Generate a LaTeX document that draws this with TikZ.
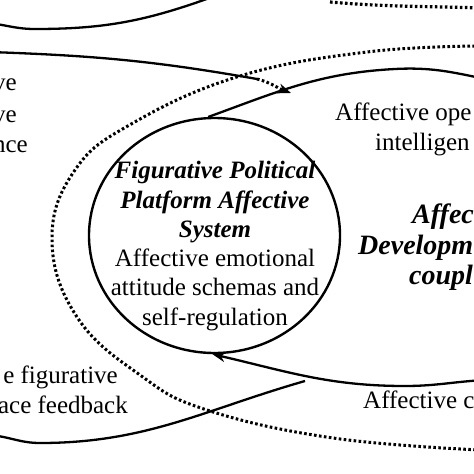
\documentclass[tikz,border=0pt]{standalone}
\usepackage{fontspec}
\setmainfont{Liberation Serif}
\usetikzlibrary{shapes.geometric,arrows.meta}
\begin{document}
\begin{tikzpicture}[x=1pt,y=1pt,
  lbl/.style={inner sep=0pt, font=\fontsize{25}{30}\selectfont},
  bilbl/.style={inner sep=0pt, font=\fontsize{28}{31}\selectfont\bfseries\itshape},
  solidline/.style={line width=2.3pt},
  dotline/.style={line width=3pt, dash pattern=on 2.6pt off 2.4pt},
  tip/.style={-{Stealth[length=13pt,width=10pt]}}]
\useasboundingbox (0,0) rectangle (474,-474);
\clip (0,0) rectangle (474,-474);

% central system
\node[draw, ellipse, line width=2.4pt, minimum width=251pt, minimum height=235pt, inner sep=0pt] (sys) at (214.5,-235.5) {};
\node[align=center, inner sep=0pt, font=\fontsize{25}{29.3}\selectfont] (systext) at (215,-246)
  {{\bfseries\itshape Figurative Political}\\
   {\bfseries\itshape Platform Affective}\\
   {\bfseries\itshape System}\\
   Affective emotional\\
   attitude schemas and\\
   self-regulation};

% right texts
\node[lbl, anchor=base west] (r1) at (335,-120) {Affective ope};
\node[lbl, anchor=base west] (r2) at (375,-150) {intelligen};
\node[bilbl, anchor=base west] (r3) at (412,-223) {Affec};
\node[bilbl, anchor=base west] (r4) at (358,-254) {Developm};
\node[bilbl, anchor=base west] (r5) at (409,-284) {coupl};
\node[lbl, anchor=base west] (r6) at (363,-408) {Affective c};

% left texts
\node[lbl, anchor=base east] (l1) at (17,-90) {ve};
\node[lbl, anchor=base east] (l2) at (17,-122) {ve};
\node[lbl, anchor=base east] (l3) at (28,-152) {nce};
\node[lbl, anchor=base east] (l4) at (118,-383) {e figurative};
\node[lbl, anchor=base east] (l5) at (128,-413) {ace feedback};

% coordinates
\coordinate (a0) at (-10,-23);
\coordinate (a1) at (35,-29);
\coordinate (a2) at (215,4);
\coordinate (b0) at (-10,-52);
\coordinate (b1) at (257,-79);
\coordinate (b2) at (291,-93);
\coordinate (c1) at (395,-69);
\coordinate (c2) at (485,-79);
\coordinate (d0) at (485,-380);
\coordinate (d1) at (405,-386);
\coordinate (e0) at (-10,-435);
\coordinate (e1) at (40,-443);
\coordinate (e2) at (305,-381);
\coordinate (g0) at (330,-2);
\coordinate (g1) at (480,-8);

% solid curves
\draw[solidline] (a0) to[out=-8,in=180] (a1) to[out=0,in=200] (a2);
\draw[solidline] (b0) to[out=-2,in=170] (b1);
\draw[dotline, tip] (b1) to[out=-14,in=160] (b2);
\draw[solidline] (sys.93) to[out=20,in=183] (c1) to[out=3,in=168] (c2);
\draw[solidline, tip] (d0) to[out=183,in=0] (d1) to[out=180,in=-13] (sys.269);
\draw[solidline] (e0) to[out=-5,in=180] (e1) to[out=0,in=196] (e2);

% dotted curves
\draw[dotline, line width=3.2pt] (g0) to[out=-5,in=178] (g1);
\draw[dotline] plot[smooth, tension=0.7] coordinates {(480,-46) (367,-52) (240,-76) (133,-123) (75,-170) (52,-240) (77,-317) (140,-375) (207,-410) (333,-438) (480,-450)};
\end{tikzpicture}
\end{document}
